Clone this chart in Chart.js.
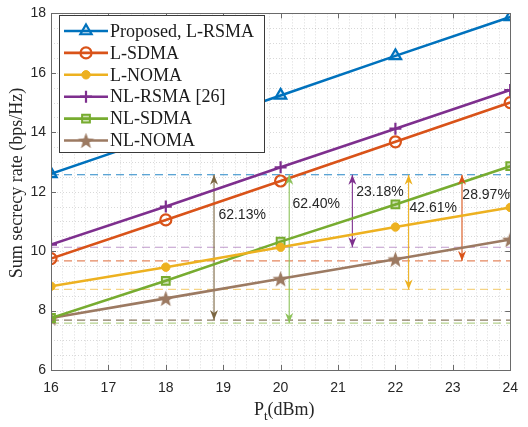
<!DOCTYPE html>
<html>
<head>
<meta charset="utf-8">
<script src="https://cdn.jsdelivr.net/npm/chart.js@4.4.1/dist/chart.umd.min.js"></script>
<style>
  html, body { margin: 0; padding: 0; background: #fff; }
  #wrap { width: 528px; height: 427px; }
</style>
</head>
<body>
<div id="wrap"><canvas id="c" width="528" height="427"></canvas></div>
<script>
// transmit power (dBm)
const power = [16, 18, 20, 22, 24];

// sum secrecy rate (bps/Hz)
const lRsma = [12.6, 13.92, 15.24, 16.57, 17.88];
const lSdma = [9.75, 11.05, 12.36, 13.68, 15.0];
const lNoma = [8.82, 9.46, 10.13, 10.81, 11.47];
const nlRsma = [10.22, 11.5, 12.82, 14.12, 15.42];
const nlSdma = [7.75, 9.0, 10.32, 11.57, 12.86];
const nlNoma = [7.75, 8.41, 9.07, 9.73, 10.39];

const seriesNames = ['Proposed, L-RSMA', 'L-SDMA', 'L-NOMA', 'NL-RSMA [26]', 'NL-SDMA', 'NL-NOMA'];

// horizontal reference levels (dashed)
const refNames = ['blue', 'purple', 'orange', 'yellow', 'brown', 'green'];
const refLevels = [12.57, 10.13, 9.67, 8.71, 7.68, 7.58];

// gain arrows
const arrowX = [18.84, 20.15, 21.25, 22.23, 23.16];
const arrowTop = [12.57, 12.57, 12.57, 12.57, 12.57];
const arrowBottom = [7.68, 7.58, 10.13, 8.71, 9.67];
const gainLabels = ['62.13%', '62.40%', '23.18%', '42.61%', '28.97%'];
const labelX = [19.33, 20.62, 21.73, 22.66, 23.58];
const labelY = [11.21, 11.58, 12.0, 11.44, 11.87];

const xTicks = [16, 17, 18, 19, 20, 21, 22, 23, 24];
const yTicks = [6, 8, 10, 12, 14, 16, 18];

const colors = ['#0072BD', '#D95319', '#EDB120', '#7E2F8E', '#77AC30', '#9C7A62'];
const refColors = ['rgba(0,114,189,0.85)', 'rgba(170,120,185,0.75)', 'rgba(217,83,25,0.7)',
                   'rgba(237,177,32,0.55)', 'rgba(120,100,70,0.85)', 'rgba(119,172,48,0.55)'];
const arrowColors = ['#7B6642', '#8DC25A', '#7E2F8E', '#EDB120', '#D95319'];

function makeStar(color, r) {
    const s = Math.ceil(r * 2 + 2);
    const cv = document.createElement('canvas');
    cv.width = s; cv.height = s;
    const g = cv.getContext('2d');
    g.beginPath();
    for (let i = 0; i < 10; i++) {
        const rr = i % 2 === 0 ? r : r * 0.42;
        const a = -Math.PI / 2 + i * Math.PI / 5;
        const px = s / 2 + rr * Math.cos(a), py = s / 2 + rr * Math.sin(a) + 0.8;
        if (i === 0) g.moveTo(px, py); else g.lineTo(px, py);
    }
    g.closePath();
    g.fillStyle = color;
    g.fill();
    return cv;
}
const star = makeStar(colors[5], 8.5);

const pts = (ys) => power.map((x, i) => ({ x: x, y: ys[i] }));

const markers = [
    { pointStyle: 'triangle', pointRadius: 6.5, pointBorderWidth: 2.2, pointBackgroundColor: 'rgba(0,114,189,0.15)' },
    { pointStyle: 'circle', pointRadius: 5.5, pointBorderWidth: 2.2, pointBackgroundColor: 'rgba(255,255,255,0)' },
    { pointStyle: 'circle', pointRadius: 4.2, pointBorderWidth: 1, pointBackgroundColor: colors[2] },
    { pointStyle: 'cross', pointRadius: 6, pointBorderWidth: 2.2, pointBackgroundColor: colors[3] },
    { pointStyle: 'rect', pointRadius: 5.5, pointBorderWidth: 2, pointBackgroundColor: 'rgba(119,172,48,0.35)' },
    { pointStyle: star, pointRadius: 8, pointBorderWidth: 0, pointBackgroundColor: colors[5] }
];

const seriesData = [lRsma, lSdma, lNoma, nlRsma, nlSdma, nlNoma];

const datasets = [];
seriesData.forEach((ys, i) => {
    datasets.push(Object.assign({
        label: seriesNames[i],
        data: pts(ys),
        borderColor: colors[i],
        pointBorderColor: colors[i],
        borderWidth: 2.6,
        order: 0
    }, markers[i]));
});
refLevels.forEach((v, i) => {
    datasets.push({
        label: 'ref-' + refNames[i],
        data: [{ x: 16, y: v }, { x: 24, y: v }],
        borderColor: refColors[i],
        borderWidth: 1.2,
        borderDash: [8, 5],
        pointRadius: 0,
        order: 2
    });
});
arrowX.forEach((x, i) => {
    datasets.push({
        label: 'arrow-' + i,
        data: [{ x: x, y: arrowTop[i] }, { x: x, y: arrowBottom[i] }],
        borderColor: arrowColors[i],
        borderWidth: 1.1,
        pointRadius: 0,
        order: 1
    });
});

const sans = '"Liberation Sans", Arial, sans-serif';
const serif = '"Liberation Serif", "Times New Roman", serif';

function arrowHead(ctx, x, y, dir, color) {
    // dir = -1 pointing up, 1 pointing down
    ctx.save();
    ctx.fillStyle = color;
    ctx.beginPath();
    ctx.moveTo(x, y);
    ctx.lineTo(x - 4, y - dir * 10);
    ctx.lineTo(x, y - dir * 7);
    ctx.lineTo(x + 4, y - dir * 10);
    ctx.closePath();
    ctx.fill();
    ctx.restore();
}

const framePlugin = {
    id: 'frame',
    beforeDatasetsDraw(chart) {
        const ctx = chart.ctx, a = chart.chartArea;
        const xs = chart.scales.x, ys = chart.scales.y;
        ctx.save();
        ctx.strokeStyle = 'rgba(0,0,0,0.15)';
        ctx.lineWidth = 1;
        ctx.setLineDash([1, 2]);
        for (let k = 1; k < 40; k++) {
            const px = Math.round(xs.getPixelForValue(16 + k * 0.2)) + 0.5;
            ctx.beginPath(); ctx.moveTo(px, a.top); ctx.lineTo(px, a.bottom); ctx.stroke();
        }
        for (let k = 1; k < 24; k++) {
            const py = Math.round(ys.getPixelForValue(6 + k * 0.5)) + 0.5;
            ctx.beginPath(); ctx.moveTo(a.left, py); ctx.lineTo(a.right, py); ctx.stroke();
        }
        ctx.restore();
    },
    afterDatasetsDraw(chart) {
        const ctx = chart.ctx, a = chart.chartArea;
        const xs = chart.scales.x, ys = chart.scales.y;
        // arrow heads
        arrowX.forEach((x, i) => {
            const px = xs.getPixelForValue(x);
            arrowHead(ctx, px, ys.getPixelForValue(arrowTop[i]), -1, arrowColors[i]);
            arrowHead(ctx, px, ys.getPixelForValue(arrowBottom[i]), 1, arrowColors[i]);
        });
        // gain labels
        ctx.save();
        ctx.fillStyle = '#262626';
        ctx.font = '14px ' + sans;
        ctx.textAlign = 'center';
        ctx.textBaseline = 'middle';
        gainLabels.forEach((t, i) => {
            ctx.fillText(t, xs.getPixelForValue(labelX[i]), ys.getPixelForValue(labelY[i]));
        });
        ctx.restore();

        // box and ticks
        ctx.save();
        ctx.strokeStyle = '#6a6a6a';
        ctx.lineWidth = 1;
        ctx.strokeRect(Math.round(a.left) + 0.5, Math.round(a.top) + 0.5,
            Math.round(a.right - a.left), Math.round(a.bottom - a.top));
        xTicks.forEach(v => {
            const px = Math.round(xs.getPixelForValue(v)) + 0.5;
            ctx.beginPath(); ctx.moveTo(px, a.bottom); ctx.lineTo(px, a.bottom - 5);
            ctx.moveTo(px, a.top); ctx.lineTo(px, a.top + 5); ctx.stroke();
        });
        yTicks.forEach(v => {
            const py = Math.round(ys.getPixelForValue(v)) + 0.5;
            ctx.beginPath(); ctx.moveTo(a.left, py); ctx.lineTo(a.left + 5, py);
            ctx.moveTo(a.right, py); ctx.lineTo(a.right - 5, py); ctx.stroke();
        });
        ctx.restore();

        // legend
        const lx = 59, ly = 15, lw = 205, lh = 137;
        ctx.save();
        ctx.fillStyle = '#fff';
        ctx.fillRect(lx, ly, lw, lh);
        ctx.strokeStyle = '#3a3a3a';
        ctx.lineWidth = 1;
        ctx.strokeRect(lx + 0.5, ly + 0.5, lw, lh);
        ctx.font = '18px ' + serif;
        ctx.textBaseline = 'middle';
        seriesNames.forEach((name, i) => {
            const yy = 31 + i * 21.9;
            ctx.strokeStyle = colors[i];
            ctx.lineWidth = 2.6;
            ctx.beginPath(); ctx.moveTo(64, yy); ctx.lineTo(108, yy); ctx.stroke();
            const m = markers[i];
            if (typeof m.pointStyle === 'string') {
                ctx.fillStyle = m.pointBackgroundColor;
                ctx.strokeStyle = colors[i];
                ctx.lineWidth = m.pointBorderWidth;
                Chart.helpers.drawPoint(ctx, {
                    pointStyle: m.pointStyle, radius: m.pointRadius, rotation: 0,
                    borderWidth: m.pointBorderWidth
                }, 86, yy);
            } else {
                ctx.drawImage(m.pointStyle, 86 - m.pointStyle.width / 2, yy - m.pointStyle.height / 2);
            }
            ctx.fillStyle = '#1a1a1a';
            ctx.fillText(name, 110, yy + 1);
        });
        ctx.restore();

        // axis titles
        ctx.save();
        ctx.fillStyle = '#262626';
        ctx.font = '18px ' + serif;
        ctx.textBaseline = 'middle';
        ctx.translate(17, 183);
        ctx.rotate(-Math.PI / 2);
        ctx.textAlign = 'center';
        ctx.fillText('Sum secrecy rate (bps/Hz)', 0, 0);
        ctx.restore();

        ctx.save();
        ctx.fillStyle = '#262626';
        ctx.textBaseline = 'alphabetic';
        ctx.font = '18px ' + serif;
        const p = 'P', sub = 't', rest = '(dBm)';
        ctx.textAlign = 'left';
        let x0 = 254;
        ctx.fillText(p, x0, 415);
        x0 += ctx.measureText(p).width;
        ctx.font = '13px ' + serif;
        ctx.fillText(sub, x0, 420);
        x0 += ctx.measureText(sub).width;
        ctx.font = '18px ' + serif;
        ctx.fillText(rest, x0, 415);
        ctx.restore();
    }
};

new Chart(document.getElementById('c'), {
    type: 'line',
    data: { datasets: datasets },
    options: {
        responsive: false,
        animation: false,
        devicePixelRatio: 1,
        layout: { padding: { top: 6, right: 9, left: 0, bottom: 0 } },
        plugins: { legend: { display: false }, tooltip: { enabled: false } },
        scales: {
            x: {
                type: 'linear', min: 16, max: 24,
                afterFit: (s) => { s.height = 57; },
                afterBuildTicks: (s) => { s.ticks = xTicks.map(v => ({ value: v })); },
                ticks: { padding: 10, color: '#262626', font: { size: 14, family: sans } },
                grid: { display: false, drawTicks: false },
                border: { display: false }
            },
            y: {
                min: 6, max: 18,
                afterFit: (s) => { s.width = 51; },
                afterBuildTicks: (s) => { s.ticks = yTicks.map(v => ({ value: v })); },
                ticks: { padding: 5, color: '#262626', font: { size: 14, family: sans } },
                grid: { display: false, drawTicks: false },
                border: { display: false }
            }
        }
    },
    plugins: [framePlugin]
});
</script>
</body>
</html>
